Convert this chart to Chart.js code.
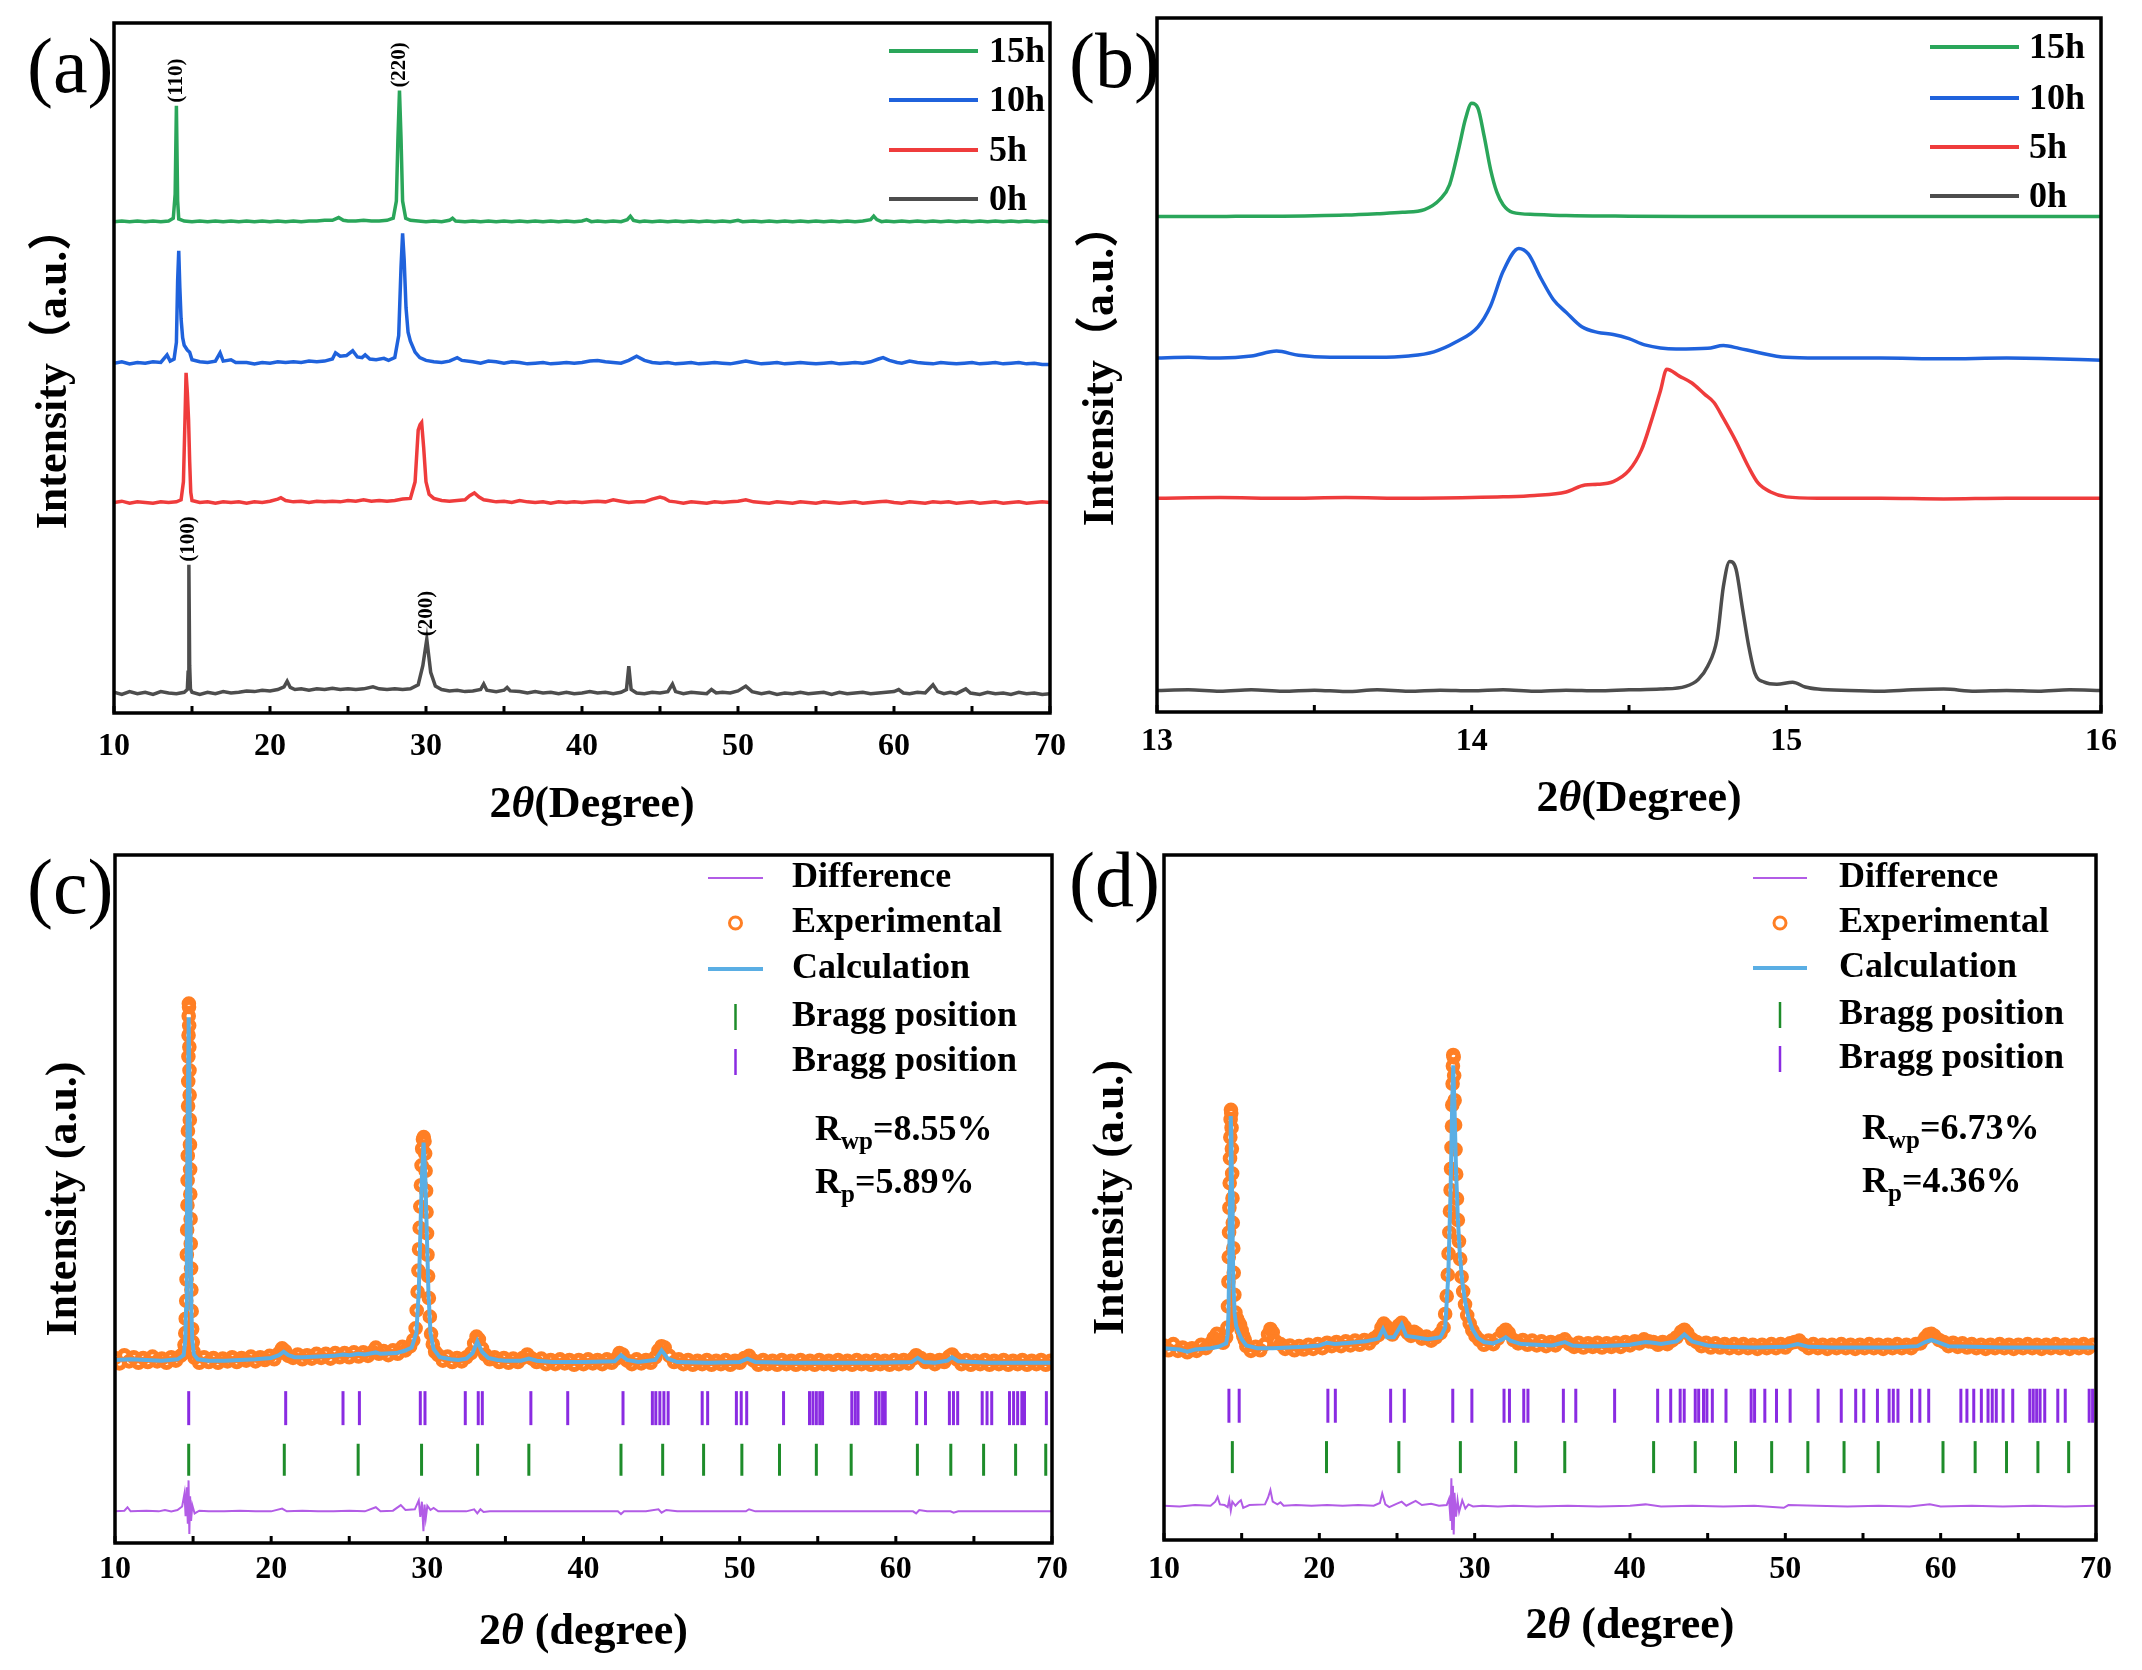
<!DOCTYPE html>
<html>
<head>
<meta charset="utf-8">
<script src="https://cdn.jsdelivr.net/npm/chart.js@4.4.0/dist/chart.umd.min.js"></script>
<style>
  html, body { margin: 0; padding: 0; background: #fff; }
  #page { position: relative; width: 2142px; height: 1670px; overflow: hidden; }
  canvas { position: absolute; }
</style>
</head>
<body>
<div id="page">
  <canvas id="ca" width="1075" height="835" style="left:0;top:0"></canvas>
  <canvas id="cb" width="1080" height="835" style="left:1062px;top:0"></canvas>
  <canvas id="cc" width="1075" height="835" style="left:0;top:835px"></canvas>
  <canvas id="cd" width="1080" height="835" style="left:1062px;top:835px"></canvas>
</div>
<script>
// ---- data: [2theta, intensity] (arbitrary units) ----
const seriesLabels = ['15h', '10h', '5h', '0h'];
const seriesColors = ['#2aa65a', '#1f62dc', '#ef3c3c', '#4d4d4d'];

// (a) full range patterns, intensity above each curve's own baseline
const a15h = [[10,0],[10.5,0.1],[11,0],[11.5,0.1],[12,0],[12.5,0.1],[13,0],[13.5,0.1],[13.8,0.5],[13.92,4],[14.0,16.8],[14.08,3],[14.15,0.4],[14.5,0.1],[15,0],[15.5,0.1],[16,0],[16.5,0.1],[17,0],[17.5,0.1],[18,0],[18.5,0.1],[19,0],[19.5,0.1],[20,0],[20.5,0.1],[21,0],[21.5,0.1],[22,0],[22.5,0.1],[23,0.1],[23.5,0.2],[24,0.2],[24.4,0.6],[24.7,0.2],[25,0.1],[25.5,0.1],[26,0.2],[26.5,0.1],[27,0.1],[27.5,0.2],[27.9,0.5],[28.1,3],[28.2,12],[28.3,19.0],[28.4,12],[28.5,3],[28.7,0.5],[29,0.2],[29.5,0.1],[30,0],[30.5,0.1],[31,0],[31.5,0.2],[31.7,0.5],[31.9,0.1],[32.5,0],[33,0.1],[33.5,0],[34,0.1],[34.5,0],[35,0.1],[35.5,0],[36,0.1],[36.5,0],[37,0.1],[37.5,0],[38,0.1],[38.5,0],[39,0.1],[39.5,0],[40,0.1],[40.3,0.3],[40.6,0],[41,0.1],[41.5,0],[42,0.1],[42.5,0],[42.9,0.3],[43.1,0.8],[43.3,0.2],[43.7,0],[44,0.1],[44.5,0],[45,0.1],[45.5,0],[46,0.1],[46.5,0],[47,0.1],[47.5,0],[48,0.1],[48.5,0],[49,0.1],[49.5,0],[50,0.2],[50.3,0],[51,0.1],[51.5,0],[52,0.1],[52.5,0],[53,0.1],[53.5,0],[54,0.1],[54.5,0],[55,0.1],[55.5,0],[56,0.1],[56.5,0],[57,0.1],[57.5,0],[58,0.1],[58.5,0.3],[58.7,0.8],[58.9,0.3],[59.2,0],[59.5,0.1],[60,0],[60.5,0.1],[61,0],[61.5,0.1],[62,0],[62.5,0.1],[63,0],[63.5,0.1],[64,0],[64.5,0.1],[65,0],[65.5,0.1],[66,0],[66.5,0.1],[67,0],[67.5,0.1],[68,0],[68.5,0.1],[69,0],[69.5,0.1],[70,0]];
const a10h = [[10,0],[10.5,0.2],[11,-0.1],[11.5,0.1],[12,0],[12.5,0.2],[13,0.1],[13.4,1.2],[13.6,0.3],[13.85,0.6],[14.0,3],[14.08,12],[14.15,16.3],[14.22,11],[14.3,6.4],[14.4,3.7],[14.5,2.6],[14.7,1.9],[14.85,1.6],[15,0.5],[15.5,0.2],[16,0.1],[16.5,0.3],[16.8,1.5],[17.0,0.3],[17.5,0.5],[17.8,0.1],[18.5,0.1],[19,-0.1],[19.5,0.1],[20,0],[20.5,0.2],[21,0.1],[21.5,0.2],[22,0.1],[22.5,0.3],[23,0.2],[23.5,0.3],[24,0.6],[24.2,1.5],[24.5,1.0],[24.9,1.1],[25.3,1.8],[25.6,0.9],[25.9,0.8],[26.1,1.2],[26.4,0.6],[26.8,0.5],[27.3,0.7],[27.6,0.4],[28.0,0.8],[28.25,4],[28.4,14],[28.5,18.8],[28.6,15],[28.72,8],[28.85,4.5],[29.0,3.2],[29.3,1.6],[29.6,0.8],[30,0.4],[30.5,0.2],[31,0.1],[31.5,0.3],[32,0.8],[32.3,0.4],[33,0.2],[33.5,0],[34,0.3],[34.5,0.2],[35,0],[35.5,0.2],[36,0.1],[36.5,-0.1],[37,0],[37.5,0.1],[38,-0.1],[38.5,0],[39,0.1],[39.5,0],[40,0.1],[40.5,0.3],[41,0.4],[41.5,0.2],[42,0.1],[42.5,0],[43,0.4],[43.5,1.0],[44,0.4],[44.5,0.1],[45,0],[45.5,0.1],[46,-0.1],[46.5,0],[47,0.1],[47.5,-0.1],[48,0],[48.5,0.1],[49,0],[49.5,-0.1],[50,0.1],[50.5,0.3],[51,0.1],[51.5,-0.1],[52,0],[52.5,0.1],[53,-0.1],[53.5,0],[54,0.1],[54.5,0],[55,-0.1],[55.5,0],[56,0.1],[56.5,-0.1],[57,0],[57.5,0.1],[58,0],[58.5,0.2],[59,0.6],[59.3,0.8],[59.7,0.4],[60.2,0.1],[60.5,0],[61,0.3],[61.5,0.1],[62,0],[62.5,-0.1],[63,0.1],[63.5,0],[64,-0.1],[64.5,0],[65,0.1],[65.5,-0.1],[66,0],[66.5,0.1],[67,-0.1],[67.5,0],[68,0.1],[68.5,-0.1],[69,0],[69.5,-0.2],[70,-0.2]];
const a5h = [[10,0],[10.5,0.2],[11,-0.1],[11.5,0.1],[12,0],[12.5,-0.1],[13,0.1],[13.5,0],[14,0.1],[14.3,0.4],[14.45,3],[14.55,12],[14.62,18.8],[14.7,16],[14.78,12],[14.85,6],[14.92,1.5],[15,0.3],[15.5,0],[16,0.1],[16.5,-0.1],[17,0.1],[17.5,0],[18,0.1],[18.5,-0.1],[19,0.1],[19.5,0],[20,0.2],[20.5,0.5],[20.7,0.7],[21,0.3],[21.5,0.1],[22,0.2],[22.5,0],[23,0.2],[23.5,0.1],[24,0.2],[24.5,0.1],[25,0.3],[25.5,0.2],[26,0.4],[26.5,0.2],[27,0.3],[27.5,0.2],[28,0.3],[28.5,0.5],[29,0.6],[29.3,3],[29.5,10.5],[29.62,11.3],[29.72,11.6],[29.85,8],[30,3],[30.2,1.2],[30.5,0.6],[31,0.3],[31.5,0.2],[32,0.3],[32.5,0.4],[32.8,1.0],[33.1,1.4],[33.4,0.8],[33.7,0.4],[34,0.3],[34.5,0.1],[35,0.2],[35.5,0],[36,0.3],[36.5,0.1],[37,0],[37.5,0.1],[38,-0.1],[38.5,0.1],[39,0],[39.5,0.1],[40,0],[40.5,0.1],[41,0.2],[41.5,0.1],[42,0.4],[42.5,0.2],[43,0],[43.5,0.1],[44,0.1],[44.5,0.5],[45,0.8],[45.3,0.6],[45.6,0.2],[46,0.1],[46.5,-0.1],[47,0.1],[47.5,0],[48,-0.1],[48.5,0.1],[49,0],[49.5,0.1],[50,0.2],[50.5,0.4],[51,0.1],[51.5,0],[52,-0.1],[52.5,0.1],[53,0],[53.5,-0.1],[54,0.1],[54.5,0],[55,-0.1],[55.5,0.1],[56,0],[56.5,-0.1],[57,0],[57.5,0.1],[58,-0.1],[58.5,0],[59,0.1],[59.5,0.2],[60,0],[60.5,-0.1],[61,0.1],[61.5,0],[62,-0.1],[62.5,0.1],[63,0],[63.5,0.1],[64,-0.1],[64.5,0],[65,0.1],[65.5,-0.1],[66,0],[66.5,0.1],[67,-0.1],[67.5,0],[68,0.1],[68.5,-0.1],[69,0],[69.5,0.1],[70,0]];
const a0h = [[10,0.1],[10.5,-0.2],[11,0.2],[11.5,-0.1],[12,0.1],[12.5,-0.2],[13,0.2],[13.5,0],[14,-0.1],[14.5,0.1],[14.7,0.5],[14.75,3],[14.8,18.6],[14.85,4],[14.9,0.6],[15,0.1],[15.5,-0.2],[16,0.1],[16.5,-0.1],[17,0.2],[17.5,0],[18,0.1],[18.5,0.3],[19,0.2],[19.5,0.4],[20,0.3],[20.5,0.5],[20.9,0.9],[21.1,1.7],[21.3,0.8],[21.6,0.5],[22,0.6],[22.5,0.4],[23,0.6],[23.5,0.5],[24,0.7],[24.5,0.5],[25,0.6],[25.5,0.5],[26,0.6],[26.6,0.9],[27,0.6],[27.5,0.5],[28,0.6],[28.5,0.5],[29,0.6],[29.5,1.2],[29.8,4],[30.05,7.8],[30.3,3],[30.6,1.0],[31,0.5],[31.5,0.3],[32,0.4],[32.5,0.2],[33,0.3],[33.5,0.5],[33.7,1.3],[33.9,0.4],[34.5,0.2],[35,0.4],[35.2,0.8],[35.4,0.3],[36,0.2],[36.5,0],[37,0.2],[37.5,0],[38,0.1],[38.5,-0.1],[39,0.1],[39.5,-0.1],[40,0],[40.5,0.2],[41,0],[41.5,0.1],[42,-0.1],[42.5,0.1],[42.85,0.5],[43,3.9],[43.15,0.5],[43.5,0],[44,-0.1],[44.5,0.1],[45,0],[45.5,0.2],[45.8,1.3],[46,0.2],[46.5,-0.1],[47,0.1],[47.5,0],[48,-0.1],[48.3,0.5],[48.6,0],[49,0.1],[49.5,0],[50,0.3],[50.5,1.0],[50.9,0.2],[51.5,-0.1],[52,0.1],[52.5,-0.2],[53,0],[53.5,-0.1],[54,0.1],[54.5,-0.1],[55,0],[55.5,0.1],[56,-0.2],[56.5,0.1],[57,-0.1],[57.5,0],[58,0.1],[58.5,-0.1],[59,0],[59.5,0.1],[60,0.2],[60.3,0.5],[60.6,0],[61,-0.1],[61.5,0.1],[62,0],[62.5,1.2],[62.8,0.2],[63.2,-0.1],[63.6,0.1],[64,-0.1],[64.6,0.6],[64.9,0],[65.5,-0.2],[66,0.1],[66.5,-0.1],[67,0],[67.5,-0.2],[68,0.1],[68.5,-0.1],[69,0],[69.5,-0.2],[70,-0.1]];
const aOffsets = [71.2, 50.7, 30.5, 2.9];

// (b) 13-16 degree close-up
const b15h = [[13,0],[13.1,0],[13.2,0],[13.3,0.05],[13.4,0.05],[13.5,0.1],[13.6,0.2],[13.7,0.4],[13.78,0.6],[13.85,1.0],[13.9,2.5],[13.93,4.6],[13.96,10.0],[13.98,14.0],[14.0,16.3],[14.02,15.6],[14.04,11.5],[14.06,6.8],[14.08,3.5],[14.1,1.7],[14.13,0.6],[14.2,0.3],[14.3,0.15],[14.5,0.05],[14.7,0],[15,0],[15.3,0],[15.6,0],[16,0]];
const b10h = [[13,0],[13.1,0.1],[13.2,0],[13.3,0.3],[13.38,1.0],[13.45,0.4],[13.55,0.1],[13.7,0.1],[13.8,0.3],[13.88,0.9],[13.95,2.3],[14.02,4.5],[14.06,7.5],[14.1,12.5],[14.15,15.8],[14.18,15.0],[14.22,11.5],[14.26,8.4],[14.3,6.6],[14.35,4.5],[14.4,3.7],[14.45,3.4],[14.5,2.8],[14.55,1.9],[14.65,1.3],[14.75,1.4],[14.8,1.8],[14.85,1.4],[14.9,0.9],[15.0,0.1],[15.1,0],[15.3,0],[15.5,-0.1],[15.7,0],[16,-0.3]];
const b5h = [[13,0],[13.2,0.1],[13.4,0],[13.6,0.1],[13.8,0],[14,0.1],[14.1,0.2],[14.2,0.4],[14.3,0.9],[14.36,1.9],[14.4,2.0],[14.45,2.4],[14.5,4.0],[14.54,7.0],[14.57,11.0],[14.6,15.5],[14.62,18.6],[14.66,17.6],[14.7,16.6],[14.74,15.0],[14.77,13.8],[14.8,11.5],[14.84,8.2],[14.88,4.5],[14.91,2.2],[14.95,0.9],[15.0,0.2],[15.1,0],[15.3,0],[15.5,-0.1],[15.7,0],[16,0]];
const b0h = [[13,0],[13.1,0.1],[13.2,-0.1],[13.3,0.1],[13.4,-0.1],[13.5,0.05],[13.6,-0.15],[13.7,0.1],[13.8,-0.1],[13.9,0.05],[14,-0.05],[14.1,0.1],[14.2,-0.1],[14.3,0.05],[14.4,-0.05],[14.5,0.1],[14.6,0.2],[14.68,0.6],[14.72,1.6],[14.75,3.5],[14.78,7.5],[14.8,15.0],[14.82,18.6],[14.84,17.5],[14.86,12.0],[14.88,6.5],[14.9,2.5],[14.93,1.2],[14.97,0.9],[15.02,1.2],[15.06,0.5],[15.1,0.2],[15.2,0],[15.3,-0.1],[15.4,0.1],[15.5,0.2],[15.6,-0.1],[15.7,0],[15.8,-0.1],[15.9,0.1],[16,0]];
const bOffsets = [71.4, 51.0, 30.8, 3.1];

// (a) peak labels
const peakLabels = ['(110)', '(220)', '(100)', '(200)'];
const peakLabelTheta = [14.0, 28.3, 14.8, 30.05];
const peakLabelSeries = [0, 0, 3, 3];

// (c) refinement
const cObs = [[10.0,26.9],[10.3,26.1],[10.6,27.3],[10.9,26.4],[11.2,27.0],[11.5,26.2],[11.8,26.9],[12.1,26.3],[12.4,27.1],[12.7,26.4],[13.0,26.8],[13.3,26.2],[13.6,27.0],[13.9,26.5],[14.2,27.2],
  [14.4,27.6],[14.45,28.8],[14.5,30.5],[14.53,32.6],[14.56,35.2],[14.58,38.3],[14.6,41.9],[14.62,45.5],[14.64,49.1],[14.65,52.7],[14.66,56.3],[14.67,59.9],[14.68,63.5],[14.69,67.1],[14.7,70.7],[14.71,73.8],[14.72,76.6],[14.73,78.4],[14.74,77.9],[14.75,75.2],[14.76,72.1],[14.77,68.7],[14.78,65.1],[14.79,61.5],[14.8,57.9],[14.81,54.3],[14.82,50.7],[14.84,47.1],[14.85,43.5],[14.87,39.9],[14.89,36.8],[14.91,33.7],[14.94,31.1],[14.98,29.2],[15.03,27.8],
  [15.1,26.9],[15.4,26.2],[15.7,27.0],[16.0,26.3],[16.3,26.9],[16.6,26.2],[16.9,26.8],[17.2,26.4],[17.5,27.0],[17.8,26.3],[18.1,26.9],[18.4,26.5],[18.7,27.1],[19.0,26.4],[19.3,27.0],[19.6,26.6],[19.9,27.2],[20.2,26.7],[20.5,27.6],[20.7,28.3],[20.9,27.9],[21.1,27.2],[21.4,26.9],[21.7,27.4],[22.0,26.7],[22.3,27.3],[22.6,26.8],[22.9,27.5],[23.2,26.9],[23.5,27.5],[23.8,26.8],[24.1,27.6],[24.4,27.0],[24.7,27.6],[25.0,27.0],[25.3,27.7],[25.6,27.1],[25.9,27.7],[26.2,27.2],[26.5,27.8],[26.7,28.4],[26.9,27.5],[27.2,27.9],[27.5,27.3],[27.8,28.0],[28.1,27.5],[28.4,28.5],[28.6,28.0],[28.9,28.6],[29.1,29.5],
  [29.25,31.2],[29.32,33.8],[29.38,36.5],[29.43,39.6],[29.47,42.7],[29.51,45.8],[29.55,48.9],[29.59,52.0],[29.63,54.9],[29.67,57.3],[29.72,58.7],[29.77,59.0],[29.82,58.4],[29.86,56.6],[29.89,54.1],[29.92,51.2],[29.95,48.1],[29.98,45.0],[30.01,41.9],[30.05,38.8],[30.1,35.6],[30.16,32.9],[30.24,30.4],[30.35,28.9],[30.5,27.8],
  [30.7,27.3],[31.0,26.5],[31.3,27.1],[31.6,26.3],[31.9,26.9],[32.2,26.4],[32.5,27.0],[32.8,27.6],[33.0,29.0],[33.15,30.0],[33.3,29.6],[33.5,28.3],[33.7,27.4],[34.0,26.7],[34.3,27.0],[34.6,26.3],[34.9,26.9],[35.2,26.2],[35.5,26.8],[35.8,26.3],[36.1,26.9],[36.4,27.4],[36.7,26.8],[37.0,26.3],[37.3,26.8],[37.6,26.0],[37.9,26.6],[38.2,26.0],[38.5,26.7],[38.8,26.1],[39.1,26.6],[39.4,25.9],[39.7,26.6],[40.0,26.0],[40.3,26.7],[40.6,26.1],[40.9,26.6],[41.2,26.0],[41.5,26.7],[41.8,26.2],[42.1,26.8],[42.3,27.6],[42.5,27.4],[42.8,26.5],[43.1,26.0],[43.4,26.7],[43.7,26.1],[44.0,26.6],[44.3,26.2],[44.6,27.0],[44.8,28.0],[45.0,28.6],[45.2,28.4],[45.5,27.2],[45.8,26.3],[46.1,26.7],[46.4,26.0],[46.7,26.6],[47.0,25.9],[47.3,26.5],[47.6,26.0],[47.9,26.6],[48.2,25.9],[48.5,26.5],[48.8,26.0],[49.1,26.6],[49.4,25.9],[49.7,26.5],[50.0,26.2],[50.3,26.9],[50.6,27.2],[50.9,26.5],[51.2,25.9],[51.5,26.6],[51.8,26.0],[52.1,26.5],[52.4,25.9],[52.7,26.6],[53.0,26.0],[53.3,26.5],[53.6,25.9],[53.9,26.6],[54.2,26.0],[54.5,26.5],[54.8,25.9],[55.1,26.6],[55.4,26.0],[55.7,26.5],[56.0,25.9],[56.3,26.6],[56.6,26.0],[56.9,26.5],[57.2,25.9],[57.5,26.6],[57.8,26.0],[58.1,26.5],[58.4,25.9],[58.7,26.6],[59.0,26.0],[59.3,26.5],[59.6,25.9],[59.9,26.6],[60.2,26.0],[60.5,26.6],[60.8,26.1],[61.1,26.8],[61.3,27.3],[61.6,26.9],[61.9,26.3],[62.2,26.6],[62.5,26.0],[62.8,26.6],[63.1,26.3],[63.4,27.1],[63.6,27.4],[63.9,26.7],[64.2,26.0],[64.5,26.6],[64.8,25.9],[65.1,26.5],[65.4,26.0],[65.7,26.6],[66.0,25.9],[66.3,26.5],[66.6,26.0],[66.9,26.6],[67.2,25.9],[67.5,26.5],[67.8,26.0],[68.1,26.6],[68.4,25.9],[68.7,26.5],[69.0,26.0],[69.3,26.6],[69.6,25.9],[69.9,26.5]];
const cCalc = [[10,26.6],[11,26.7],[12,26.6],[13,26.5],[14,26.7],[14.4,27.3],[14.5,29.5],[14.55,34],[14.6,45.5],[14.65,61],[14.72,76.4],[14.79,61],[14.84,45.5],[14.89,34],[14.95,29.5],[15.05,27.4],[15.3,26.7],[16,26.5],[17,26.5],[18,26.6],[19,26.7],[20,26.9],[20.5,27.3],[20.8,27.8],[21.1,27.3],[21.5,27.0],[22,27.0],[23,27.1],[24,27.2],[24.6,27.4],[25,27.3],[25.6,27.5],[26,27.4],[26.7,27.7],[27,27.5],[28,27.6],[28.5,27.9],[29.0,28.4],[29.3,30.6],[29.45,36.5],[29.55,44.8],[29.65,53.2],[29.76,58.2],[29.87,53.2],[29.97,44.8],[30.07,36.5],[30.2,30.6],[30.4,28.2],[30.8,27.0],[31.5,26.7],[32,26.6],[32.5,26.8],[32.9,27.6],[33.2,29.3],[33.5,27.8],[33.9,26.9],[34.5,26.6],[35,26.5],[36,26.5],[36.5,26.8],[37,26.5],[38,26.3],[40,26.3],[42,26.4],[42.4,27.3],[42.8,26.6],[43.5,26.3],[44.6,26.6],[45.0,28.0],[45.4,26.8],[46,26.3],[48,26.2],[50,26.3],[50.5,26.8],[51,26.3],[53,26.2],[55,26.2],[57,26.2],[59,26.2],[61,26.3],[61.4,26.9],[61.8,26.3],[62.5,26.2],[63.3,26.5],[63.6,27.0],[64,26.4],[66,26.2],[68,26.2],[70,26.2]];
const cDiff = [[10,4.6],[10.6,4.7],[10.8,5.2],[11.0,4.6],[12,4.7],[12.8,4.6],[13.2,4.8],[13.6,4.6],[14.0,4.8],[14.3,5.3],[14.45,7.2],[14.52,3.9],[14.6,8.1],[14.66,2.8],[14.71,9.1],[14.76,1.3],[14.81,6.8],[14.87,3.2],[14.95,5.5],[15.1,4.3],[15.4,4.7],[16,4.6],[17,4.6],[18,4.7],[19,4.6],[20,4.6],[20.7,5.0],[21.0,4.6],[22,4.7],[23,4.6],[24,4.6],[25,4.7],[26,4.6],[26.7,5.2],[27.0,4.6],[27.8,4.7],[28.3,5.5],[28.6,4.8],[29.2,4.9],[29.45,6.2],[29.55,3.8],[29.65,6.0],[29.75,1.7],[29.82,5.6],[29.9,3.6],[30.0,5.4],[30.2,4.8],[30.4,5.1],[30.7,4.6],[31.5,4.6],[32.5,4.6],[33.0,4.9],[33.2,4.3],[33.4,4.9],[33.6,4.5],[34,4.6],[36,4.6],[38,4.6],[40,4.6],[42.2,4.6],[42.4,4.2],[42.6,4.6],[44,4.6],[44.8,4.9],[45.0,4.4],[45.3,4.8],[46,4.6],[48,4.6],[50.4,4.6],[50.6,4.9],[51,4.6],[54,4.6],[57,4.6],[61.1,4.6],[61.3,4.3],[61.5,4.8],[62,4.6],[63.5,4.6],[63.7,4.4],[64,4.6],[67,4.6],[70,4.6]];
const cBraggGreen = [14.72, 20.84, 25.57, 29.63, 33.22, 36.50, 42.40, 45.07, 47.69, 50.14, 52.55, 54.91, 57.14, 61.38, 63.52, 65.62, 67.67, 69.60];
const cBraggPurple = [14.72, 20.93, 24.60, 25.65, 29.55, 29.85, 32.43, 33.26, 33.52, 36.63, 38.99, 42.53, 44.41, 44.63, 44.89, 45.15, 45.42, 47.60, 47.95, 49.79, 50.10, 50.45, 52.81, 54.47, 54.69, 54.91, 55.13, 55.31, 57.18, 57.40, 57.58, 58.71, 58.93, 59.15, 59.32, 61.33, 61.90, 63.43, 63.69, 63.96, 65.53, 65.84, 66.14, 67.28, 67.54, 67.80, 68.07, 68.24, 69.64];
const cRfactors = ['8.55%', '5.89%'];

// (d) refinement
const dObs = [[10.0,28.4],[10.3,27.7],[10.6,28.6],[10.9,27.6],[11.2,28.1],[11.5,27.4],[11.8,28.0],[12.1,27.6],[12.4,28.5],[12.7,28.0],[13.0,28.7],[13.2,29.5],[13.4,30.1],[13.6,29.2],[13.8,28.8],[14.0,29.6],
  [14.08,31],[14.12,34.1],[14.15,37.7],[14.17,41.3],[14.19,44.9],[14.21,48.5],[14.23,52.1],[14.25,55.7],[14.27,58.8],[14.29,61.4],[14.31,62.8],[14.33,62.3],[14.35,60.2],[14.37,57.1],[14.39,53.5],[14.41,49.9],[14.43,46.3],[14.46,42.6],[14.49,39.0],[14.53,35.8],[14.6,33.2],[14.7,32.3],[14.8,31.8],[14.9,31.4],[15.0,30.6],[15.1,29.8],[15.2,29.2],
  [15.3,28.3],[15.6,27.6],[15.9,28.2],[16.2,27.7],[16.5,28.6],[16.7,30.0],[16.85,30.8],[17.0,30.3],[17.2,29.0],[17.5,28.6],[17.8,27.9],[18.1,28.4],[18.4,27.7],[18.7,28.3],[19.0,27.8],[19.3,28.5],[19.6,27.9],[19.9,28.6],[20.2,28.0],[20.5,28.8],[20.8,28.3],[21.1,28.9],[21.4,28.3],[21.7,29.0],[22.0,28.4],[22.3,29.1],[22.6,28.5],[22.9,29.2],[23.2,28.7],[23.5,29.4],[23.8,29.9],[24.0,31.0],[24.15,31.6],[24.3,31.2],[24.5,30.4],[24.7,30.0],[24.9,30.6],[25.1,31.3],[25.3,31.7],[25.5,31.1],[25.7,30.2],[25.9,29.8],[26.1,30.4],[26.3,30.1],[26.6,29.4],[26.9,29.7],[27.2,29.1],[27.5,29.6],[27.8,30.2],[28.0,31],
  [28.1,33],[28.2,35.6],[28.27,38.7],[28.32,41.8],[28.37,44.9],[28.41,48.0],[28.45,51.1],[28.48,54.2],[28.51,57.3],[28.54,60.4],[28.56,63.5],[28.58,66.6],[28.6,69.2],[28.62,70.8],[28.65,70.5],[28.68,67.8],[28.71,64.2],[28.74,60.6],[28.77,57.0],[28.81,53.4],[28.86,49.8],[28.92,46.7],[28.99,43.6],[29.07,41.0],[29.16,38.4],[29.26,36.3],[29.38,34.4],[29.52,32.8],[29.68,31.6],[29.85,30.6],[30.05,29.8],
  [30.3,29.2],[30.6,28.5],[30.9,29.1],[31.2,28.6],[31.5,29.4],[31.8,30.3],[32.0,30.7],[32.2,30.2],[32.5,29.2],[32.8,28.7],[33.1,29.2],[33.4,28.5],[33.7,29.1],[34.0,28.4],[34.3,29.0],[34.6,28.3],[34.9,28.9],[35.2,28.4],[35.5,29.0],[35.8,29.3],[36.1,28.6],[36.4,28.2],[36.7,28.8],[37.0,28.1],[37.3,28.7],[37.6,28.2],[37.9,28.8],[38.2,28.1],[38.5,28.7],[38.8,28.2],[39.1,28.8],[39.4,28.2],[39.7,28.9],[40.0,28.4],[40.3,29.0],[40.6,28.7],[40.9,29.3],[41.2,29.0],[41.5,28.9],[41.8,28.5],[42.1,28.9],[42.4,28.6],[42.7,29.1],[43.0,29.6],[43.3,30.4],[43.5,30.7],[43.7,30.2],[44.0,29.3],[44.3,28.9],[44.6,28.3],[44.9,28.8],[45.2,28.1],[45.5,28.7],[45.8,28.1],[46.1,28.6],[46.4,28.0],[46.7,28.6],[47.0,28.0],[47.3,28.6],[47.6,28.0],[47.9,28.5],[48.2,27.9],[48.5,28.5],[48.8,28.0],[49.1,28.6],[49.4,28.0],[49.7,28.6],[50.0,28.1],[50.3,28.7],[50.6,28.9],[50.9,29.1],[51.2,28.5],[51.5,28.0],[51.8,28.6],[52.1,28.0],[52.4,28.5],[52.7,27.9],[53.0,28.5],[53.3,28.0],[53.6,28.6],[53.9,28.0],[54.2,28.5],[54.5,27.9],[54.8,28.5],[55.1,28.0],[55.4,28.6],[55.7,28.0],[56.0,28.5],[56.3,27.9],[56.6,28.5],[56.9,28.0],[57.2,28.6],[57.5,28.0],[57.8,28.5],[58.1,28.0],[58.4,28.6],[58.7,28.7],[59.0,29.5],[59.2,30.0],[59.4,30.1],[59.6,29.8],[59.9,29.2],[60.2,28.9],[60.5,28.3],[60.8,28.8],[61.1,28.2],[61.4,28.7],[61.7,28.1],[62.0,28.6],[62.3,28.0],[62.6,28.5],[62.9,27.9],[63.2,28.5],[63.5,28.0],[63.8,28.6],[64.1,28.0],[64.4,28.5],[64.7,27.9],[65.0,28.5],[65.3,28.0],[65.6,28.6],[65.9,28.0],[66.2,28.5],[66.5,27.9],[66.8,28.5],[67.1,28.0],[67.4,28.6],[67.7,28.0],[68.0,28.5],[68.3,27.9],[68.6,28.5],[68.9,28.0],[69.2,28.6],[69.5,28.0],[69.8,28.5]];
const dCalc = [[10,28.0],[11,27.8],[11.5,27.5],[12,27.8],[13,28.0],[13.5,28.2],[14.0,28.7],[14.1,30],[14.15,33],[14.2,40.5],[14.25,50.8],[14.28,58],[14.31,61.9],[14.34,59],[14.38,50.8],[14.42,43.5],[14.47,37.3],[14.55,33],[14.65,31.2],[14.8,30.3],[15.0,29.3],[15.3,28.4],[16,28.0],[17,28.0],[18,28.1],[19,28.2],[20,28.4],[20.5,28.8],[21,28.6],[22,28.8],[23,29.0],[23.8,29.4],[24.1,30.8],[24.35,29.6],[24.8,29.6],[25.3,31.5],[25.6,29.8],[26.2,29.6],[27,29.3],[27.8,29.6],[28.1,31],[28.3,38.5],[28.45,51],[28.55,63.3],[28.62,69.3],[28.7,63.3],[28.8,54],[28.92,46.8],[29.05,41.5],[29.2,37.8],[29.4,34.6],[29.6,32.5],[29.85,30.8],[30.2,29.5],[30.6,28.9],[31.2,28.7],[31.8,29.3],[32.0,29.6],[32.3,29.1],[33,28.6],[34,28.5],[35,28.4],[35.8,28.9],[36.3,28.4],[37,28.3],[38,28.3],[39,28.4],[40,28.5],[41,28.9],[41.5,28.8],[42,28.6],[43,29.0],[43.5,30.0],[44,29.0],[45,28.4],[46,28.2],[48,28.1],[50,28.2],[50.8,28.6],[51.5,28.2],[53,28.1],[55,28.1],[57,28.1],[58.5,28.3],[59.0,28.9],[59.4,29.2],[59.8,28.9],[60.5,28.3],[62,28.2],[64,28.1],[66,28.1],[68,28.1],[70,28.1]];
const dDiff = [[10,5.0],[11,4.9],[12,5.1],[13,5.0],[13.3,5.6],[13.45,6.3],[13.6,5.2],[13.9,5.1],[14.1,4.8],[14.2,5.9],[14.3,4.3],[14.4,5.6],[14.6,5.0],[14.8,5.5],[14.95,5.8],[15.1,4.7],[15.5,5.1],[16.5,5.2],[16.7,6.2],[16.85,7.3],[17.0,5.6],[17.3,5.2],[17.5,5.5],[17.7,5.0],[18.5,5.1],[19.5,5.0],[20.5,5.1],[21.5,5.0],[22.5,5.1],[23.5,5.0],[23.9,5.4],[24.05,6.8],[24.25,5.2],[24.5,4.8],[25,5.3],[25.3,5.6],[25.6,5.0],[26.2,5.7],[26.6,5.1],[27.2,5.3],[27.7,5.0],[28.2,5.1],[28.35,6.0],[28.45,2.8],[28.5,9.0],[28.55,1.6],[28.6,7.9],[28.65,0.8],[28.7,6.9],[28.8,3.4],[28.9,5.8],[29.0,4.1],[29.2,5.8],[29.4,4.6],[29.6,5.2],[29.9,4.9],[30.5,5.0],[31.5,4.9],[32.5,5.0],[34,4.9],[36,5.0],[38,4.9],[40,5.0],[41,5.2],[42,4.9],[44,5.0],[46,4.9],[48,5.0],[49.9,4.7],[50.2,5.1],[52,5.0],[54,4.9],[56,5.0],[58,4.9],[59.3,5.2],[60,4.9],[62,5.0],[64,4.9],[66,5.0],[68,4.9],[70,5.0]];
const dBraggGreen = [14.40, 20.46, 25.12, 29.08, 32.64, 35.80, 41.52, 44.20, 46.79, 49.12, 51.45, 53.78, 55.98, 60.15, 62.22, 64.24, 66.26, 68.24];
const dBraggPurple = [14.18, 14.84, 20.55, 21.03, 24.59, 25.47, 28.59, 29.82, 31.89, 32.24, 33.16, 33.43, 35.71, 36.51, 39.01, 41.78, 42.62, 43.23, 43.49, 44.20, 44.42, 44.73, 44.95, 45.30, 46.18, 47.80, 48.02, 48.68, 49.43, 50.31, 52.11, 53.60, 54.53, 55.05, 55.93, 56.68, 56.95, 57.25, 58.13, 58.66, 59.23, 61.30, 61.69, 62.13, 62.62, 63.05, 63.32, 63.58, 64.02, 64.64, 65.74, 65.96, 66.18, 66.40, 66.70, 67.54, 68.02, 69.56, 69.78];
const dRfactors = ['6.73%', '4.36%'];

const rietveldLabels = ['Difference', 'Experimental', 'Calculation', 'Bragg position', 'Bragg position'];

// ---- styling ----
const SERIF = "'Liberation Serif', 'Times New Roman', serif";
const SERIF_CJK = "'Liberation Serif', 'Noto Sans CJK SC', serif";
const C_OBS = '#ff7f24', C_CALC = '#5aaee4', C_DIFF = '#b25ce6', C_BRAGG_G = '#1e8c2a', C_BRAGG_P = '#8a2be2';
const GREEN_ROW = 12.1, PURPLE_ROW = 19.6;

function xy(pairs, offset) {
  return pairs.map(p => ({ x: p[0], y: p[1] + (offset || 0) }));
}
function ticksAt(thetas, row) {
  return thetas.map(t => ({ x: t, y: row }));
}

function drawRuns(ctx, runs, x, y, align, baseline) {
  let total = 0;
  runs.forEach(r => { ctx.font = r.font; r.w = ctx.measureText(r.text).width; total += r.w; });
  let cx = align === 'center' ? x - total / 2 : x;
  ctx.textAlign = 'left';
  ctx.textBaseline = baseline || 'middle';
  runs.forEach(r => { ctx.font = r.font; ctx.fillText(r.text, cx, y + (r.dy || 0)); cx += r.w; });
}

function decor(cfg) {
  return {
    id: 'decor',
    afterDraw(chart) {
      const ctx = chart.ctx, a = chart.chartArea, xs = chart.scales.x, ys = chart.scales.y;
      ctx.save();
      ctx.fillStyle = '#000';
      ctx.strokeStyle = '#000';
      // inward ticks on the bottom axis
      ctx.lineWidth = 3;
      for (let v = xs.min; v <= xs.max + 1e-9; v += cfg.tickStep) {
        const px = xs.getPixelForValue(v);
        ctx.beginPath(); ctx.moveTo(px, a.bottom); ctx.lineTo(px, a.bottom - 7); ctx.stroke();
      }
      // frame
      ctx.lineWidth = 3.5;
      ctx.strokeRect(a.left, a.top, a.right - a.left, a.bottom - a.top);

      // x title with italic theta
      const bold = 'bold 44px ' + SERIF, ital = 'italic bold 44px ' + SERIF;
      drawRuns(ctx, [{ text: '2', font: bold }, { text: 'θ', font: ital }, { text: cfg.xTitle, font: bold }],
        (a.left + a.right) / 2 + cfg.xTitleDx, cfg.xTitleY, 'center');

      // panel letter
      ctx.font = '78px ' + SERIF;
      ctx.textAlign = 'left'; ctx.textBaseline = 'alphabetic';
      ctx.fillText(cfg.letter, cfg.letterX, cfg.letterY);

      const lg = cfg.legend;
      if (lg.kind === 'series') {
        ctx.font = 'bold 36px ' + SERIF;
        seriesLabels.forEach((lab, i) => {
          ctx.strokeStyle = seriesColors[i]; ctx.lineWidth = 4;
          ctx.beginPath(); ctx.moveTo(lg.x1, lg.ys[i]); ctx.lineTo(lg.x2, lg.ys[i]); ctx.stroke();
          ctx.fillStyle = '#000'; ctx.textBaseline = 'middle'; ctx.textAlign = 'left';
          ctx.fillText(lab, lg.xt, lg.ys[i] + 2);
        });
      } else {
        const cxs = (lg.x1 + lg.x2) / 2;
        rietveldLabels.forEach((lab, i) => {
          const y = lg.ys[i];
          ctx.beginPath();
          if (i === 0) { ctx.strokeStyle = C_DIFF; ctx.lineWidth = 2; ctx.moveTo(lg.x1, y); ctx.lineTo(lg.x2, y); }
          else if (i === 1) { ctx.strokeStyle = C_OBS; ctx.lineWidth = 3; ctx.arc(cxs, y, 6, 0, Math.PI * 2); }
          else if (i === 2) { ctx.strokeStyle = C_CALC; ctx.lineWidth = 4; ctx.moveTo(lg.x1, y); ctx.lineTo(lg.x2, y); }
          else { ctx.strokeStyle = i === 3 ? C_BRAGG_G : C_BRAGG_P; ctx.lineWidth = 2.5; ctx.moveTo(cxs, y - 13); ctx.lineTo(cxs, y + 13); }
          ctx.stroke();
          ctx.fillStyle = '#000'; ctx.font = 'bold 36px ' + SERIF;
          ctx.textBaseline = 'middle'; ctx.textAlign = 'left';
          ctx.fillText(lab, lg.xt, y);
        });
        // R factors
        const big = 'bold 36px ' + SERIF, sub = 'bold 25px ' + SERIF;
        drawRuns(ctx, [{ text: 'R', font: big }, { text: 'wp', font: sub, dy: 9 }, { text: '=' + cfg.r[0], font: big }],
          cfg.rX, cfg.rY[0], 'left', 'alphabetic');
        drawRuns(ctx, [{ text: 'R', font: big }, { text: 'p', font: sub, dy: 9 }, { text: '=' + cfg.r[1], font: big }],
          cfg.rX, cfg.rY[1], 'left', 'alphabetic');
      }

      // rotated peak labels above the peaks
      if (cfg.peaks) {
        ctx.font = 'bold 21px ' + SERIF;
        ctx.fillStyle = '#000';
        peakLabels.forEach((lab, i) => {
          const s = peakLabelSeries[i], t = peakLabelTheta[i];
          let top = -Infinity;
          cfg.peaks.series[s].forEach(p => { if (Math.abs(p[0] - t) < 0.3 && p[1] > top) top = p[1]; });
          const px = xs.getPixelForValue(t), py = ys.getPixelForValue(top + cfg.peaks.offsets[s]);
          ctx.save();
          ctx.translate(px, py - 3);
          ctx.rotate(-Math.PI / 2);
          ctx.textAlign = 'left'; ctx.textBaseline = 'middle';
          ctx.fillText(lab, 0, 0);
          ctx.restore();
        });
      }
      ctx.restore();
    }
  };
}

function options(p) {
  return {
    responsive: false, animation: false, devicePixelRatio: 1, events: [],
    layout: { padding: { left: 0, top: p.top, right: p.right, bottom: 0 } },
    elements: { line: { tension: 0 } },
    plugins: { legend: { display: false }, tooltip: { enabled: false } },
    scales: {
      x: {
        type: 'linear', min: p.xmin, max: p.xmax,
        grid: { display: false, drawTicks: false }, border: { display: false },
        ticks: { stepSize: p.step, padding: p.tickPad, color: '#000', maxRotation: 0, autoSkip: false,
          font: { family: SERIF, size: 32, weight: 'bold', lineHeight: 1.2 } },
        afterFit: s => { s.height = p.xH; s.paddingLeft = 0; s.paddingRight = 0; }
      },
      y: {
        type: 'linear', min: 0, max: 100,
        grid: { display: false, drawTicks: false }, border: { display: false },
        ticks: { display: false },
        title: { display: true, text: p.yTitle, color: '#000', padding: { top: p.yTitlePad, bottom: 0 },
          font: { family: SERIF_CJK, size: 44, weight: 'bold', lineHeight: 1.2 } },
        afterFit: s => { s.width = p.yW; s.paddingTop = 0; s.paddingBottom = 0; }
      }
    }
  };
}

function stackedSets(series, offsets, smooth) {
  return series.map((s, i) => ({
    label: seriesLabels[i], data: xy(s, offsets[i]), showLine: true, pointRadius: 0,
    borderColor: seriesColors[i], borderWidth: 3.5,
    cubicInterpolationMode: smooth ? 'monotone' : 'default'
  }));
}

function rietveldSets(obs, calc, diff, green, purple) {
  return [
    { label: 'Calculation', data: xy(calc), showLine: true, pointRadius: 0, borderColor: C_CALC, borderWidth: 4, order: 0 },
    { label: 'Experimental', data: xy(obs), showLine: false, pointRadius: 4.8, pointStyle: 'circle',
      borderColor: C_OBS, backgroundColor: 'rgba(0,0,0,0)', borderWidth: 5, order: 1 },
    { label: 'Difference', data: xy(diff), showLine: true, pointRadius: 0, borderColor: C_DIFF, borderWidth: 2, order: 2 },
    { label: 'Bragg position', data: ticksAt(green, GREEN_ROW), showLine: false, pointStyle: 'line', rotation: 90,
      pointRadius: 16, borderColor: C_BRAGG_G, borderWidth: 3, order: 3 },
    { label: 'Bragg position', data: ticksAt(purple, PURPLE_ROW), showLine: false, pointStyle: 'line', rotation: 90,
      pointRadius: 17, borderColor: C_BRAGG_P, borderWidth: 3, order: 4 }
  ];
}

const seriesA = [a15h, a10h, a5h, a0h];
const seriesB = [b15h, b10h, b5h, b0h];

new Chart(document.getElementById('ca'), {
  type: 'scatter',
  data: { datasets: stackedSets(seriesA, aOffsets, false) },
  options: options({ top: 23, right: 25, xH: 122, yW: 114, tickPad: 14.8, yTitlePad: 28.6, xmin: 10, xmax: 70, step: 10, yTitle: 'Intensity（a.u.）' }),
  plugins: [decor({ tickStep: 5, xTitle: '(Degree)', xTitleDx: 10, xTitleY: 806, letter: '(a)', letterX: 27, letterY: 92,
    legend: { kind: 'series', x1: 889, x2: 978, xt: 989, ys: [51, 100, 150, 199] },
    peaks: { series: seriesA, offsets: aOffsets } })]
});

new Chart(document.getElementById('cb'), {
  type: 'scatter',
  data: { datasets: stackedSets(seriesB, bOffsets, true) },
  options: options({ top: 18, right: 41, xH: 123, yW: 95, tickPad: 10.8, yTitlePad: 13.6, xmin: 13, xmax: 16, step: 1, yTitle: 'Intensity（a.u.）' }),
  plugins: [decor({ tickStep: 0.5, xTitle: '(Degree)', xTitleDx: 10, xTitleY: 800, letter: '(b)', letterX: 7, letterY: 87,
    legend: { kind: 'series', x1: 868, x2: 957, xt: 967, ys: [47, 98, 147, 196] } })]
});

new Chart(document.getElementById('cc'), {
  type: 'scatter',
  data: { datasets: rietveldSets(cObs, cCalc, cDiff, cBraggGreen, cBraggPurple) },
  options: options({ top: 12, right: 23, xH: 127, yW: 115, tickPad: 7.8, yTitlePad: 38.6, xmin: 10, xmax: 70, step: 10, yTitle: 'Intensity (a.u.)' }),
  plugins: [decor({ tickStep: 5, xTitle: ' (degree)', xTitleDx: 0, xTitleY: 798, letter: '(c)', letterX: 27, letterY: 78,
    legend: { kind: 'rietveld', x1: 708, x2: 763, xt: 792, ys: [43, 88, 134, 182, 227] },
    r: cRfactors, rX: 815, rY: [305, 358] })]
});

new Chart(document.getElementById('cd'), {
  type: 'scatter',
  data: { datasets: rietveldSets(dObs, dCalc, dDiff, dBraggGreen, dBraggPurple) },
  options: options({ top: 11, right: 46, xH: 130, yW: 102, tickPad: 10.8, yTitlePad: 23.6, xmin: 10, xmax: 70, step: 10, yTitle: 'Intensity (a.u.)' }),
  plugins: [decor({ tickStep: 5, xTitle: ' (degree)', xTitleDx: 0, xTitleY: 792, letter: '(d)', letterX: 7, letterY: 71,
    legend: { kind: 'rietveld', x1: 691, x2: 745, xt: 777, ys: [43, 88, 133, 180, 224] },
    r: dRfactors, rX: 800, rY: [304, 357] })]
});
</script>
</body>
</html>
